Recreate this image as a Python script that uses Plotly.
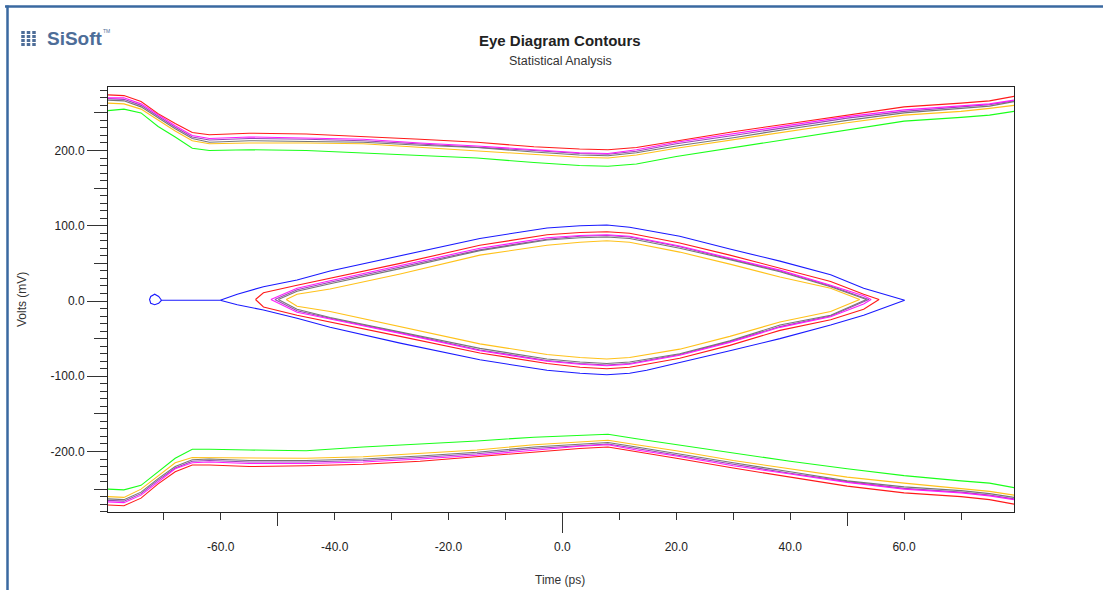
import plotly.graph_objects as go

# ---------------- data (time in ps, voltage in mV) ----------------
# outer bands (top rail and bottom rail) share one time grid
band_t = [-79.8, -77, -74, -71, -68, -65, -62, -55, -45, -35, -25, -15, -5,
          3, 8, 13, 20, 30, 40, 50, 60, 70, 75, 79.3]

top_red = [274, 273, 265, 249, 236, 224, 221, 223, 222, 219, 215, 211, 205,
           202, 201, 204, 213, 225, 236, 247, 258, 263, 266, 272]
top_magenta = [270, 270, 262, 247, 233, 220, 216, 218, 217, 215, 210, 206, 201,
               197, 196, 201, 211, 222, 234, 245, 254, 259, 262, 267]
top_purple = [269, 268, 260, 245, 231, 218, 214, 216, 215, 213, 209, 205, 200,
              196, 195, 199, 209, 220, 232, 243, 252, 258, 261, 266]
top_gray = [267, 266, 258, 243, 229, 216, 211, 213, 212, 211, 207, 204, 198,
            194, 193, 197, 206, 217, 229, 240, 250, 256, 259, 265]
top_orange = [263, 262, 255, 240, 226, 213, 209, 210, 210, 209, 204, 200, 194,
              191, 190, 194, 203, 214, 226, 237, 247, 252, 256, 260]
top_green = [253, 255, 250, 232, 218, 203, 200, 201, 200, 197, 194, 190, 184,
             180, 179, 182, 192, 204, 215, 227, 239, 244, 247, 252]

bot_red = [-271, -272, -262, -243, -227, -218, -218, -220, -219, -217, -213, -207, -201,
           -196, -194, -200, -209, -222, -234, -246, -255, -260, -264, -270]
bot_magenta = [-267, -268, -258, -240, -223, -215, -214, -216, -216, -214, -210, -205, -198,
               -193, -191, -198, -206, -219, -230, -241, -250, -255, -259, -264]
bot_purple = [-265, -266, -256, -238, -222, -213, -212, -214, -214, -212, -208, -203, -196,
              -192, -190, -196, -205, -217, -229, -240, -249, -254, -258, -263]
bot_gray = [-263, -264, -254, -236, -220, -211, -210, -212, -212, -210, -206, -201, -194,
            -190, -188, -194, -203, -215, -227, -239, -247, -252, -256, -261]
bot_orange = [-260, -261, -250, -232, -215, -208, -208, -209, -209, -207, -203, -198, -191,
              -187, -185, -191, -199, -212, -223, -234, -242, -249, -253, -258]
bot_green = [-250, -251, -245, -227, -209, -197, -197, -198, -199, -194, -190, -186, -181,
             -178, -177, -183, -191, -202, -213, -223, -232, -239, -242, -248]

# inner eye contours: time points, upper edge, lower edge (tips shared)
eye_blue_t = [-60.1, -57.1, -52.5, -46.6, -40.8, -28.5, -14.5, -8.7, -2.7, 3.1, 7.8,
              11.8, 14.8, 20.6, 29.4, 38.2, 47.1, 52.9, 60.1]
eye_blue_up = [1, 9, 19, 28, 40, 60, 83, 90, 97, 100, 101, 98, 94, 86, 69, 53, 35, 17, 1]
eye_blue_lo = [1, -5, -12, -23, -35, -56, -78, -85, -92, -96, -98, -96, -92, -82, -66, -50, -32, -19, 1]

tail_blue_t = [-60.1, -70.4, -70.9, -71.6, -72.3, -72.5, -72.3, -71.6, -70.9, -70.4]
tail_blue_v = [1, 1, 6, 9, 6, 2, -3, -5, -3, 1]

eye_red_t = [-53.9, -52.5, -46.6, -40.8, -28.5, -14.5, -2.7, 3.1, 7.8, 11.8, 20.6,
             29.4, 38.2, 47.1, 52.9, 55.6]
eye_red_up = [2, 11, 21, 30, 50, 74, 88, 91, 92, 90, 77, 61, 44, 26, 9, 2]
eye_red_lo = [2, -8, -19, -28, -47, -69, -83, -88, -90, -88, -76, -59, -39, -25, -11, 2]

eye_magenta_t = [-51.2, -46.6, -40.8, -28.5, -14.5, -2.7, 3.1, 7.8, 11.8, 20.6, 29.4,
                 38.2, 47.1, 52.9, 54.2]
eye_magenta_up = [2, 17, 27, 47, 70, 84, 87, 88, 86, 73, 57, 41, 21, 7, 2]
eye_magenta_lo = [2, -15, -24, -43, -66, -80, -84, -86, -84, -72, -55, -35, -21, -4, 2]

eye_purple_t = [-50.5, -46.6, -40.8, -28.5, -14.5, -2.7, 3.1, 7.8, 11.8, 20.6, 29.4,
                38.2, 47.1, 53.8]
eye_purple_up = [2, 15, 25, 45, 68, 82, 86, 87, 85, 72, 56, 40, 20, 2]
eye_purple_lo = [2, -13, -23, -42, -65, -79, -83, -85, -83, -71, -54, -34, -20, 2]

eye_gray_t = [-49.9, -46.6, -40.8, -28.5, -14.5, -2.7, 3.1, 7.8, 11.8, 20.6, 29.4,
              38.2, 47.1, 53.4]
eye_gray_up = [2, 13, 23, 43, 67, 81, 84, 85, 83, 70, 55, 39, 19, 2]
eye_gray_lo = [2, -11, -22, -41, -63, -77, -81, -83, -81, -70, -53, -32, -19, 2]

eye_orange_t = [-48.5, -46.6, -40.8, -28.5, -14.5, -2.7, 3.1, 7.8, 11.8, 20.6, 29.4,
                38.2, 47.1, 52.2]
eye_orange_up = [2, 9, 16, 36, 61, 74, 78, 80, 78, 65, 49, 32, 17, 2]
eye_orange_lo = [2, -7, -14, -34, -57, -71, -75, -77, -75, -64, -47, -28, -14, 2]

x_tick_vals = [-60, -40, -20, 0, 20, 40, 60]
x_tick_text = ["-60.0", "-40.0", "-20.0", "0.0", "20.0", "40.0", "60.0"]
y_tick_vals = [-200, -100, 0, 100, 200]
y_tick_text = ["-200.0", "-100.0", "0.0", "100.0", "200.0"]
x_mid_ticks = [-50, 50]
x_big_ticks = [0]
y_mid_ticks = [-250, -150, -50, 50, 150, 250]

# ---------------- styling ----------------
C_RED = "#ff1a1a"
C_MAG = "#ff1aff"
C_PUR = "#9a46b8"
C_GRAY = "#767676"
C_ORA = "#ffc21a"
C_GRN = "#1aff1a"
C_BLU = "#1a1aff"
LW = 1.1

fig = go.Figure()


def add_line(x, y, color):
    fig.add_trace(go.Scatter(x=x, y=y, mode="lines",
                             line=dict(color=color, width=LW),
                             hoverinfo="skip", showlegend=False))


def closed(t, up, lo):
    xs = list(t) + list(t[::-1][1:])
    ys = list(up) + list(lo[::-1][1:])
    return xs, ys


# outer bands
for vals, col in [(top_green, C_GRN), (top_orange, C_ORA), (top_purple, C_PUR),
                  (top_gray, C_GRAY), (top_magenta, C_MAG), (top_red, C_RED),
                  (bot_green, C_GRN), (bot_orange, C_ORA), (bot_purple, C_PUR),
                  (bot_gray, C_GRAY), (bot_magenta, C_MAG), (bot_red, C_RED)]:
    add_line(band_t, vals, col)

# inner eye
for t, up, lo, col in [(eye_orange_t, eye_orange_up, eye_orange_lo, C_ORA),
                       (eye_purple_t, eye_purple_up, eye_purple_lo, C_PUR),
                       (eye_gray_t, eye_gray_up, eye_gray_lo, C_GRAY),
                       (eye_magenta_t, eye_magenta_up, eye_magenta_lo, C_MAG),
                       (eye_red_t, eye_red_up, eye_red_lo, C_RED),
                       (eye_blue_t, eye_blue_up, eye_blue_lo, C_BLU)]:
    xs, ys = closed(t, up, lo)
    add_line(xs, ys, col)
add_line(tail_blue_t, tail_blue_v, C_BLU)

# dummy traces so overlay tick axes exist
fig.add_trace(go.Scatter(x=[None], y=[None], xaxis="x2", yaxis="y2",
                         mode="lines", hoverinfo="skip", showlegend=False))
fig.add_trace(go.Scatter(x=[None], y=[None], xaxis="x3", yaxis="y2",
                         mode="lines", hoverinfo="skip", showlegend=False))

XR = [-79.8, 79.3]
YR = [-280.4, 284.4]
TICKC = "#333333"

W, H = 1103, 590
ML, MR, MT, MB = 108, 89, 87, 78
PW, PH = W - ML - MR, H - MT - MB


def px(xp):
    return (xp - ML) / PW


def py(yp):
    return (H - MB - yp) / PH


fig.update_layout(
    width=W, height=H,
    margin=dict(l=ML, r=MR, t=MT, b=MB, pad=0),
    paper_bgcolor="white", plot_bgcolor="white",
    showlegend=False, hovermode=False,
    font=dict(family="Liberation Sans, Arial, sans-serif", size=12, color="#333333"),
    xaxis=dict(range=XR, tickmode="array", tickvals=x_tick_vals, ticktext=x_tick_text,
               ticks="outside", ticklen=7, tickwidth=1, tickcolor=TICKC,
               ticklabelstandoff=17,
               tickfont=dict(size=12, color="#222222"),
               showline=True, linecolor="#222222", linewidth=1, mirror=True,
               showgrid=False, zeroline=False,
               minor=dict(tickmode="linear", tick0=0, dtick=10, ticks="outside",
                          ticklen=7, tickwidth=1, tickcolor=TICKC, showgrid=False)),
    yaxis=dict(range=YR, tickmode="array", tickvals=y_tick_vals, ticktext=y_tick_text,
               ticks="outside", ticklen=20, tickwidth=1, tickcolor=TICKC,
               tickfont=dict(size=12, color="#222222"),
               showline=True, linecolor="#222222", linewidth=1, mirror=True,
               showgrid=False, zeroline=False,
               minor=dict(tickmode="linear", tick0=0, dtick=10, ticks="outside",
                          ticklen=7, tickwidth=1, tickcolor=TICKC, showgrid=False)),
    xaxis2=dict(range=XR, overlaying="x", anchor="y2", side="bottom",
                tickmode="array", tickvals=x_mid_ticks, ticks="outside", ticklen=13,
                tickwidth=1, tickcolor=TICKC, showticklabels=False,
                showline=False, showgrid=False, zeroline=False),
    xaxis3=dict(range=XR, overlaying="x", anchor="y2", side="bottom",
                tickmode="array", tickvals=x_big_ticks, ticks="outside", ticklen=20,
                tickwidth=1, tickcolor=TICKC, showticklabels=False,
                showline=False, showgrid=False, zeroline=False),
    yaxis2=dict(range=YR, overlaying="y", anchor="x2", side="left",
                tickmode="array", tickvals=y_mid_ticks, ticks="outside", ticklen=13,
                tickwidth=1, tickcolor=TICKC, showticklabels=False,
                showline=False, showgrid=False, zeroline=False),
)

BORDER = "#3a69a0"
fig.add_shape(type="line", xref="paper", yref="paper",
              x0=px(5), x1=px(1103), y0=py(6.5), y1=py(6.5),
              line=dict(color=BORDER, width=2.5))
fig.add_shape(type="line", xref="paper", yref="paper",
              x0=px(7.5), x1=px(7.5), y0=py(5.5), y1=py(592),
              line=dict(color=BORDER, width=2.5))

ann = [
    dict(text="<b>Eye Diagram Contours</b>", x=px(560), y=py(40), size=15, color="#222222"),
    dict(text="Statistical Analysis", x=px(560), y=py(61), size=12.5, color="#333333"),
    dict(text="Time (ps)", x=px(560), y=py(580), size=12, color="#333333"),
]
for a in ann:
    fig.add_annotation(text=a["text"], x=a["x"], y=a["y"], xref="paper", yref="paper",
                       showarrow=False, xanchor="center", yanchor="middle",
                       font=dict(size=a["size"], color=a["color"],
                                 family="Liberation Sans, Arial, sans-serif"))
fig.add_annotation(text="Volts (mV)", x=px(22), y=py(300), xref="paper", yref="paper",
                   showarrow=False, textangle=-90, xanchor="center", yanchor="middle",
                   font=dict(size=12, color="#333333",
                             family="Liberation Sans, Arial, sans-serif"))
# logo
fig.add_annotation(text="<b>SiSoft</b>", x=px(45), y=py(39), xref="paper", yref="paper",
                   showarrow=False, xanchor="left", yanchor="middle",
                   font=dict(size=19, color="#4d6d98",
                             family="Liberation Sans, Arial, sans-serif"))
fig.add_annotation(text="TM", x=px(101), y=py(31), xref="paper", yref="paper",
                   showarrow=False, xanchor="left", yanchor="middle",
                   font=dict(size=5, color="#4d6d98", family="Liberation Sans, sans-serif"))
for xb in [23, 28.5, 34]:
    fig.add_shape(type="line", xref="paper", yref="paper",
                  x0=px(xb), x1=px(xb), y0=py(31), y1=py(47),
                  line=dict(color="#4d6d98", width=3.5, dash="3px,1px"))

fig.write_html("out.html")
